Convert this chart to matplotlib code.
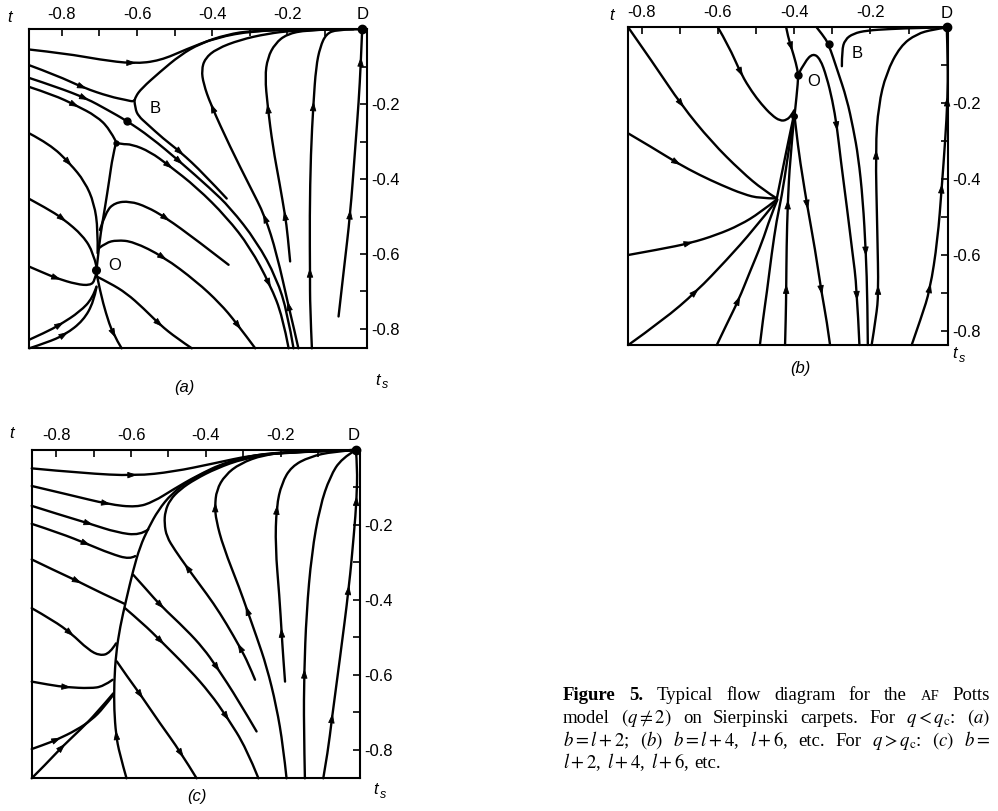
import numpy as np
import matplotlib
matplotlib.use("Agg")
import matplotlib.pyplot as plt
from matplotlib.path import Path
from matplotlib.patches import PathPatch

plt.rcParams['font.family'] = ['Liberation Sans', 'DejaVu Sans']
plt.rcParams['mathtext.fontset'] = 'stix'

W, H = 998, 811

# ---------------- axis ticks ----------------
top_ticks = [-0.8, -0.6, -0.4, -0.2]
top_labels = ['-0.8', '-0.6', '-0.4', '-0.2']
right_ticks = [-0.2, -0.4, -0.6, -0.8]
right_labels = ['-0.2', '-0.4', '-0.6', '-0.8']
minor_ticks = [-0.7, -0.5, -0.3, -0.1]

# ---------------- panel (a) ----------------
a_xlim = (-0.887, 0.012)
a_ylim = (-0.852, 0.0)
a_top = [(-0.887, -0.054), (-0.788, -0.065), (-0.699, -0.081), (-0.610, -0.092), (-0.539, -0.084),
         (-0.468, -0.053), (-0.388, -0.022), (-0.290, -0.004), (-0.165, -0.001), (0.0, 0.0)]
a_top_arr = [3]
a_hyp_up = [(-0.887, -0.096), (-0.814, -0.123), (-0.743, -0.156), (-0.672, -0.180), (-0.628, -0.189),
            (-0.607, -0.194), (-0.604, -0.180), (-0.588, -0.158), (-0.539, -0.114), (-0.485, -0.069),
            (-0.432, -0.038), (-0.361, -0.014), (-0.290, -0.003), (-0.165, 0.0)]
a_hyp_up_arr = [2]
a_hyp_down = [(-0.607, -0.189), (-0.605, -0.212), (-0.596, -0.232), (-0.574, -0.252), (-0.530, -0.292),
              (-0.485, -0.327), (-0.423, -0.385), (-0.361, -0.452)]
a_hyp_down_arr = [5]
a_sepB = [(-0.887, -0.130), (-0.814, -0.154), (-0.734, -0.185), (-0.681, -0.214), (-0.628, -0.244),
          (-0.565, -0.287), (-0.485, -0.354), (-0.405, -0.425), (-0.352, -0.476), (-0.281, -0.567),
          (-0.228, -0.665), (-0.199, -0.758), (-0.183, -0.852)]
a_sepB_arr = [2, 6]
a_junc_in = [(-0.887, -0.154), (-0.823, -0.175), (-0.763, -0.203), (-0.708, -0.232), (-0.674, -0.265),
             (-0.656, -0.300)]
a_junc_in_arr = [2]
a_junc_out = [(-0.656, -0.303), (-0.641, -0.307), (-0.614, -0.307), (-0.565, -0.327), (-0.516, -0.363),
              (-0.441, -0.422), (-0.361, -0.502), (-0.299, -0.582), (-0.245, -0.683), (-0.212, -0.767),
              (-0.196, -0.852)]
a_junc_out_arr = [4, 8]
a_elbow = [(-0.170, -0.852), (-0.183, -0.794), (-0.194, -0.749), (-0.228, -0.598), (-0.259, -0.499),
           (-0.299, -0.420), (-0.352, -0.314), (-0.404, -0.200), (-0.423, -0.145), (-0.428, -0.109),
           (-0.419, -0.078), (-0.388, -0.052), (-0.325, -0.028), (-0.254, -0.012), (-0.183, -0.003),
           (-0.076, 0.0)]
a_elbow_arr = [2, 4, 7]
a_r1 = [(-0.192, -0.620), (-0.199, -0.545), (-0.205, -0.500), (-0.220, -0.412), (-0.238, -0.314),
        (-0.252, -0.205), (-0.259, -0.127), (-0.252, -0.076), (-0.232, -0.038), (-0.201, -0.013),
        (-0.148, -0.002), (-0.076, 0.0)]
a_r1_arr = [2, 5]
a_r2 = [(-0.134, -0.852), (-0.139, -0.740), (-0.139, -0.656), (-0.140, -0.500), (-0.137, -0.332),
        (-0.130, -0.198), (-0.123, -0.100), (-0.112, -0.047), (-0.096, -0.012), (-0.068, -0.001),
        (-0.023, 0.0)]
a_r2_arr = [2, 5]
a_r3 = [(-0.063, -0.767), (-0.048, -0.634), (-0.032, -0.496), (-0.019, -0.323), (-0.009, -0.189),
        (-0.004, -0.096), (0.0, 0.0)]
a_r3_arr = [2, 5]
a_vert = [(-0.656, -0.303), (-0.665, -0.340), (-0.674, -0.403), (-0.685, -0.474), (-0.697, -0.545),
          (-0.704, -0.607), (-0.708, -0.643)]
a_l1 = [(-0.887, -0.278), (-0.832, -0.307), (-0.779, -0.358), (-0.739, -0.407), (-0.714, -0.465),
        (-0.704, -0.536), (-0.705, -0.598)]
a_l2 = [(-0.887, -0.453), (-0.841, -0.478), (-0.798, -0.505), (-0.743, -0.552), (-0.716, -0.598),
        (-0.708, -0.634)]
a_l3 = [(-0.887, -0.634), (-0.850, -0.650), (-0.814, -0.665), (-0.761, -0.681), (-0.725, -0.684),
        (-0.712, -0.671), (-0.708, -0.647)]
a_l4 = [(-0.887, -0.829), (-0.845, -0.810), (-0.805, -0.789), (-0.752, -0.754), (-0.718, -0.718),
        (-0.708, -0.687)]
a_l5 = [(-0.887, -0.852), (-0.841, -0.837), (-0.792, -0.816), (-0.743, -0.778), (-0.715, -0.727),
        (-0.708, -0.689)]
a_od = [(-0.708, -0.652), (-0.697, -0.705), (-0.683, -0.758), (-0.665, -0.812), (-0.641, -0.852)]
a_od_arr = [3]
a_or1 = [(-0.708, -0.660), (-0.672, -0.678), (-0.628, -0.705), (-0.583, -0.745), (-0.539, -0.789),
         (-0.494, -0.825), (-0.454, -0.852)]
a_or1_arr = [4]
a_or2 = [(-0.702, -0.585), (-0.683, -0.570), (-0.654, -0.563), (-0.610, -0.567), (-0.530, -0.607),
         (-0.441, -0.674), (-0.379, -0.732), (-0.336, -0.783), (-0.285, -0.852)]
a_or2_arr = [4, 7]
a_or3 = [(-0.699, -0.536), (-0.683, -0.487), (-0.659, -0.463), (-0.619, -0.459), (-0.574, -0.474),
         (-0.525, -0.502), (-0.441, -0.563), (-0.356, -0.629)]
a_or3_arr = [5]
a_fixed_x = [0.0, -0.628, -0.708, -0.656]
a_fixed_y = [0.0, -0.244, -0.643, -0.303]
a_fixed_size = [6, 5, 5.5, 3.5]
a_point_labels = ['B', 'O']
a_point_lx = [-0.552, -0.659]
a_point_ly = [-0.212, -0.631]

# ---------------- panel (b) ----------------
b_xlim = (-0.835, 0.004)
b_ylim = (-0.836, 0.002)
b_c1 = [(-0.835, 0.0), (-0.766, -0.099), (-0.696, -0.204), (-0.617, -0.301), (-0.538, -0.380),
        (-0.481, -0.428), (-0.446, -0.450)]
b_c2 = [(-0.835, -0.279), (-0.769, -0.318), (-0.705, -0.358), (-0.647, -0.389), (-0.591, -0.415),
        (-0.533, -0.439), (-0.490, -0.450), (-0.446, -0.450)]
b_c3 = [(-0.835, -0.599), (-0.752, -0.584), (-0.673, -0.568), (-0.603, -0.546), (-0.542, -0.520),
        (-0.490, -0.488), (-0.446, -0.453)]
b_c4 = [(-0.835, -0.836), (-0.743, -0.770), (-0.657, -0.696), (-0.577, -0.612), (-0.507, -0.533),
        (-0.446, -0.456)]
b_c5 = [(-0.603, -0.836), (-0.575, -0.777), (-0.546, -0.718), (-0.516, -0.643), (-0.485, -0.568),
        (-0.462, -0.498), (-0.444, -0.453)]
b_c6 = [(-0.490, -0.836), (-0.481, -0.761), (-0.472, -0.700), (-0.459, -0.595), (-0.446, -0.507),
        (-0.433, -0.446), (-0.418, -0.349), (-0.404, -0.253)]
b_pq = [(-0.446, -0.452), (-0.430, -0.372), (-0.415, -0.298), (-0.402, -0.236)]
b_c7 = [(-0.424, -0.836), (-0.422, -0.761), (-0.421, -0.691), (-0.420, -0.577), (-0.417, -0.463),
        (-0.411, -0.349), (-0.400, -0.235)]
b_c8 = [(-0.399, -0.235), (-0.389, -0.323), (-0.378, -0.393), (-0.367, -0.463), (-0.345, -0.586),
        (-0.328, -0.700), (-0.315, -0.770), (-0.306, -0.836)]
b_c9 = [(-0.600, 0.0), (-0.573, -0.046), (-0.538, -0.125), (-0.511, -0.169), (-0.486, -0.202),
        (-0.459, -0.231), (-0.437, -0.246), (-0.420, -0.244), (-0.407, -0.231), (-0.400, -0.218)]
b_c10 = [(-0.421, 0.0), (-0.416, -0.025), (-0.408, -0.051), (-0.395, -0.095), (-0.389, -0.126),
         (-0.393, -0.174), (-0.399, -0.231)]
b_hump = [(-0.389, -0.123), (-0.372, -0.090), (-0.351, -0.068), (-0.332, -0.082), (-0.315, -0.130),
          (-0.300, -0.191), (-0.288, -0.261), (-0.278, -0.349), (-0.262, -0.472), (-0.247, -0.595),
          (-0.236, -0.682), (-0.229, -0.836)]
b_bline = [(-0.341, 0.0), (-0.325, -0.020), (-0.310, -0.043), (-0.287, -0.112), (-0.262, -0.188),
           (-0.245, -0.267), (-0.232, -0.340), (-0.220, -0.454), (-0.212, -0.595), (-0.208, -0.718),
           (-0.207, -0.836)]
b_bshort = [(-0.275, -0.102), (-0.275, -0.060), (-0.267, -0.032), (-0.245, -0.016), (-0.210, -0.008),
            (-0.149, -0.004), (-0.070, -0.001), (0.0, 0.0)]
b_r1 = [(-0.197, -0.836), (-0.185, -0.761), (-0.179, -0.700), (-0.182, -0.542), (-0.187, -0.318),
        (-0.179, -0.205), (-0.159, -0.121), (-0.122, -0.049), (-0.079, -0.017), (-0.035, -0.005),
        (0.0, 0.0)]
b_r2 = [(-0.092, -0.836), (-0.066, -0.761), (-0.044, -0.691), (-0.024, -0.560), (-0.013, -0.419),
        (-0.004, -0.296), (0.002, -0.191), (0.003, -0.095), (0.0, 0.0)]
b_arrows = {'c1': [2], 'c2': [2], 'c3': [2], 'c4': [2], 'c5': [2], 'c7': [2, 4], 'c8': [3, 5],
            'c9': [2], 'c10': [2], 'hump': [6, 10], 'bline': [8], 'r1': [2, 4], 'r2': [2, 4, 6]}
b_fixed_x = [0.0, -0.310, -0.389, -0.400]
b_fixed_y = [0.0, -0.043, -0.126, -0.232]
b_fixed_size = [6, 5, 5, 4]
b_point_labels = ['B', 'O']
b_point_lx = [-0.236, -0.350]
b_point_ly = [-0.068, -0.143]

# ---------------- panel (c) ----------------
c_xlim = (-0.865, 0.011)
c_ylim = (-0.876, 0.0)
c_l1 = [(-0.865, -0.049), (-0.727, -0.062), (-0.589, -0.069), (-0.487, -0.058), (-0.380, -0.036),
        (-0.274, -0.013), (-0.149, -0.003), (0.0, 0.0)]
c_l2 = [(-0.865, -0.096), (-0.763, -0.120), (-0.660, -0.145), (-0.585, -0.153), (-0.540, -0.138),
        (-0.487, -0.105), (-0.425, -0.069), (-0.345, -0.031), (-0.238, -0.007), (0.0, 0.0)]
c_l3 = [(-0.865, -0.149), (-0.789, -0.173), (-0.709, -0.197), (-0.638, -0.220), (-0.576, -0.228),
        (-0.554, -0.212)]
c_l4 = [(-0.865, -0.197), (-0.789, -0.222), (-0.716, -0.251), (-0.656, -0.276), (-0.603, -0.292),
        (-0.589, -0.283)]
c_l5 = [(-0.865, -0.292), (-0.803, -0.322), (-0.740, -0.351), (-0.683, -0.380), (-0.616, -0.411)]
c_l6 = [(-0.865, -0.422), (-0.807, -0.455), (-0.760, -0.489), (-0.714, -0.533), (-0.683, -0.549),
        (-0.656, -0.542), (-0.640, -0.516)]
c_l7 = [(-0.865, -0.618), (-0.816, -0.627), (-0.772, -0.633), (-0.709, -0.636), (-0.674, -0.631),
        (-0.649, -0.613)]
c_l8 = [(-0.865, -0.798), (-0.834, -0.787), (-0.798, -0.773), (-0.745, -0.747), (-0.705, -0.720),
        (-0.674, -0.689), (-0.647, -0.653)]
c_l9 = [(-0.865, -0.876), (-0.825, -0.836), (-0.783, -0.791), (-0.736, -0.747), (-0.692, -0.702),
        (-0.647, -0.649)]
c_sep = [(-0.612, -0.876), (-0.631, -0.809), (-0.640, -0.760), (-0.645, -0.693), (-0.645, -0.622),
         (-0.640, -0.542), (-0.629, -0.471), (-0.613, -0.400), (-0.594, -0.320), (-0.576, -0.258),
         (-0.554, -0.209), (-0.527, -0.160), (-0.492, -0.117), (-0.443, -0.080), (-0.380, -0.049),
         (-0.309, -0.022), (-0.220, -0.006), (0.0, 0.0)]
c_o1 = [(-0.594, -0.333), (-0.558, -0.373), (-0.523, -0.413), (-0.452, -0.480), (-0.407, -0.529),
        (-0.372, -0.578), (-0.314, -0.667), (-0.265, -0.751)]
c_o2 = [(-0.616, -0.422), (-0.567, -0.464), (-0.523, -0.507), (-0.443, -0.587), (-0.389, -0.649),
        (-0.345, -0.711), (-0.292, -0.796), (-0.260, -0.876)]
c_o3 = [(-0.638, -0.564), (-0.607, -0.609), (-0.576, -0.651), (-0.523, -0.729), (-0.469, -0.804),
        (-0.425, -0.876)]
c_elbow = [(-0.269, -0.613), (-0.287, -0.569), (-0.309, -0.527), (-0.345, -0.464), (-0.380, -0.409),
           (-0.416, -0.360), (-0.452, -0.311), (-0.483, -0.267), (-0.505, -0.231), (-0.511, -0.196),
           (-0.509, -0.164), (-0.496, -0.133), (-0.469, -0.105), (-0.429, -0.078), (-0.372, -0.049),
           (-0.300, -0.023), (-0.194, -0.004), (0.0, 0.0)]
c_r1 = [(-0.185, -0.876), (-0.194, -0.791), (-0.212, -0.684), (-0.238, -0.578), (-0.265, -0.498),
        (-0.292, -0.422), (-0.309, -0.373), (-0.354, -0.258), (-0.373, -0.187), (-0.376, -0.151),
        (-0.372, -0.107), (-0.349, -0.067), (-0.309, -0.036), (-0.247, -0.013), (-0.167, -0.004),
        (0.0, 0.0)]
c_r2 = [(-0.189, -0.618), (-0.194, -0.551), (-0.198, -0.489), (-0.204, -0.391), (-0.215, -0.258),
        (-0.212, -0.151), (-0.198, -0.089), (-0.172, -0.044), (-0.123, -0.018), (-0.060, -0.004),
        (0.0, 0.0)]
c_r3 = [(-0.136, -0.876), (-0.139, -0.738), (-0.138, -0.596), (-0.132, -0.436), (-0.118, -0.276),
        (-0.096, -0.151), (-0.069, -0.071), (-0.038, -0.022), (0.0, 0.0)]
c_r4 = [(-0.087, -0.876), (-0.074, -0.800), (-0.065, -0.724), (-0.043, -0.560), (-0.018, -0.364),
        (-0.005, -0.222), (0.002, -0.133), (0.004, -0.044), (0.0, 0.0)]
c_arrows = {'l1': [2], 'l2': [2], 'l3': [2], 'l4': [2], 'l5': [2], 'l6': [2], 'l7': [2], 'l8': [2],
            'l9': [2], 'sep': [2], 'o1': [2, 5], 'o2': [2, 5], 'o3': [2, 4], 'elbow': [2, 6],
            'r1': [5, 9], 'r2': [2, 5], 'r3': [2], 'r4': [2, 4, 6]}
c_fixed_x = [0.0]
c_fixed_y = [0.0]
c_fixed_size = [6]

caption_lines = [
    [("Figure", True), ("5.", True), ("Typical", False), ("flow", False), ("diagram", False),
     ("for", False), ("the", False), ("AF", False), ("Potts", False)],
    [("model", False), (r"$(q\neq2)$", False), ("on", False), ("Sierpinski", False), ("carpets.", False),
     ("For", False), (r"$q<q_{\mathrm{c}}$:", False), (r"$(a)$", False)],
    [(r"$b=l+2$;", False), (r"$(b)$", False), (r"$b=l+4$,", False), (r"$l+6$,", False), ("etc.", False),
     ("For", False), (r"$q>q_{\mathrm{c}}$:", False), (r"$(c)$", False), (r"$b=$", False)],
    [(r"$l+2$,", False), (r"$l+4$,", False), (r"$l+6$,", False), ("etc.", False)],
]

# ---------------- drawing helpers ----------------
LW = 1.7


def draw_curve(ax, pts, arrows=()):
    P = np.asarray(pts, float)
    n = len(P)
    verts = [P[0]]
    codes = [Path.MOVETO]
    for i in range(1, n - 2):
        verts += [P[i], (P[i] + P[i + 1]) / 2]
        codes += [Path.CURVE3, Path.CURVE3]
    verts += [P[n - 2], P[n - 1]]
    codes += [Path.CURVE3, Path.CURVE3]
    ax.add_patch(PathPatch(Path(verts, codes), fill=False, lw=LW, ec='k',
                           capstyle='round', joinstyle='round', clip_on=False))
    for i in arrows:
        S = P[0] if i == 1 else (P[i - 1] + P[i]) / 2
        E = P[-1] if i == n - 2 else (P[i] + P[i + 1]) / 2
        c = 0.25 * S + 0.5 * P[i] + 0.25 * E
        d = E - S
        d = d / np.hypot(*d)
        ax.annotate('', xy=c + d * 0.010, xytext=c - d * 0.010,
                    arrowprops=dict(arrowstyle='-|>,head_length=0.65,head_width=0.22',
                                    fc='k', ec='k', lw=0.6, shrinkA=0, shrinkB=0,
                                    mutation_scale=9),
                    annotation_clip=False)


def setup(ax, xlim, ylim):
    ax.set_xlim(xlim)
    ax.set_ylim(ylim)
    ax.xaxis.tick_top()
    ax.yaxis.tick_right()
    ax.set_xticks(top_ticks, top_labels)
    ax.set_yticks(right_ticks, right_labels)
    ax.set_xticks(minor_ticks, minor=True)
    ax.set_yticks([-0.1, -0.3, -0.5, -0.7], minor=True)
    ax.tick_params(which='both', direction='in', length=5, width=1.2,
                   top=True, bottom=False, left=False, right=True, labelsize=12)
    ax.tick_params(axis='x', pad=5)
    ax.tick_params(axis='y', pad=3)
    for s in ax.spines.values():
        s.set_linewidth(1.5)


def fig_text(x_px, y_px, s, **kw):
    fig.text(x_px / W, 1 - y_px / H, s, **kw)


def axis_labels(tx, ty, sx, sy, px, py, plabel):
    fig_text(tx, ty, 't', fontsize=12, style='italic', ha='center', va='center')
    fig_text(sx, sy, 't', fontsize=12, style='italic', ha='center', va='center')
    fig_text(sx + 7, sy + 5, 's', fontsize=9, style='italic', ha='center', va='center')
    fig_text(px, py, plabel, fontsize=12, style='italic', ha='center', va='center')


fig = plt.figure(figsize=(W / 100, H / 100), dpi=100)

# panel a
ax_a = fig.add_axes([29.3 / W, 1 - 348.3 / H, 337.4 / W, 319.0 / H])
setup(ax_a, a_xlim, a_ylim)
a_list = [(a_top, a_top_arr), (a_hyp_up, a_hyp_up_arr), (a_hyp_down, a_hyp_down_arr),
          (a_sepB, a_sepB_arr), (a_junc_in, a_junc_in_arr), (a_junc_out, a_junc_out_arr),
          (a_elbow, a_elbow_arr), (a_r1, a_r1_arr), (a_r2, a_r2_arr), (a_r3, a_r3_arr),
          (a_vert, []), (a_l1, [2]), (a_l2, [2]), (a_l3, [2]), (a_l4, [2]), (a_l5, [2]),
          (a_od, a_od_arr), (a_or1, a_or1_arr), (a_or2, a_or2_arr), (a_or3, a_or3_arr)]
for pts, arr in a_list:
    draw_curve(ax_a, pts, arr)
for x, y, s in zip(a_fixed_x, a_fixed_y, a_fixed_size):
    ax_a.plot([x], [y], 'o', color='k', ms=s, clip_on=False, zorder=5)
for s, x, y in zip(a_point_labels, a_point_lx, a_point_ly):
    ax_a.text(x, y, s, fontsize=12, ha='center', va='center')
ax_a.annotate('D', xy=(0, 0), xytext=(0, 5), textcoords='offset points', ha='center', va='bottom',
              fontsize=12, annotation_clip=False)
axis_labels(10, 17, 378, 380, 184, 388, '(a)')

# panel b
ax_b = fig.add_axes([628.3 / W, 1 - 345.0 / H, 320.0 / W, 318.3 / H])
setup(ax_b, b_xlim, b_ylim)
b_list = [('c1', b_c1), ('c2', b_c2), ('c3', b_c3), ('c4', b_c4), ('c5', b_c5), ('c6', b_c6),
          ('pq', b_pq), ('c7', b_c7), ('c8', b_c8), ('c9', b_c9), ('c10', b_c10), ('hump', b_hump),
          ('bline', b_bline), ('bshort', b_bshort), ('r1', b_r1), ('r2', b_r2)]
for name, pts in b_list:
    draw_curve(ax_b, pts, b_arrows.get(name, []))
for x, y, s in zip(b_fixed_x, b_fixed_y, b_fixed_size):
    ax_b.plot([x], [y], 'o', color='k', ms=s, clip_on=False, zorder=5)
for s, x, y in zip(b_point_labels, b_point_lx, b_point_ly):
    ax_b.text(x, y, s, fontsize=12, ha='center', va='center')
ax_b.annotate('D', xy=(0, 0), xytext=(0, 5), textcoords='offset points', ha='center', va='bottom',
              fontsize=12, annotation_clip=False)
axis_labels(612, 15, 955, 354, 800, 368, '(b)')

# panel c
ax_c = fig.add_axes([31.7 / W, 1 - 778.3 / H, 328.3 / W, 328.3 / H])
setup(ax_c, c_xlim, c_ylim)
c_list = [('l1', c_l1), ('l2', c_l2), ('l3', c_l3), ('l4', c_l4), ('l5', c_l5), ('l6', c_l6),
          ('l7', c_l7), ('l8', c_l8), ('l9', c_l9), ('sep', c_sep), ('o1', c_o1), ('o2', c_o2),
          ('o3', c_o3), ('elbow', c_elbow), ('r1', c_r1), ('r2', c_r2), ('r3', c_r3), ('r4', c_r4)]
for name, pts in c_list:
    draw_curve(ax_c, pts, c_arrows.get(name, []))
for x, y, s in zip(c_fixed_x, c_fixed_y, c_fixed_size):
    ax_c.plot([x], [y], 'o', color='k', ms=s, clip_on=False, zorder=5)
ax_c.annotate('D', xy=(-0.007, 0), xytext=(0, 5), textcoords='offset points', ha='center', va='bottom',
              fontsize=12, annotation_clip=False)
axis_labels(12, 433, 376, 790, 197, 797, '(c)')

# caption (justified lines)
renderer = fig.canvas.get_renderer()
cap_x0, cap_x1 = 563, 990
cap_base = [700, 723, 746, 768]
cap_size = 13.5
for li, (words, yb) in enumerate(zip(caption_lines, cap_base)):
    arts = []
    for w, bold in words:
        size = cap_size * 0.78 if w == 'AF' else cap_size
        t = fig.text(0, 1 - yb / H, w, fontsize=size, family='Liberation Serif',
                     fontweight='bold' if bold else 'normal', ha='left', va='baseline')
        arts.append(t)
    widths = [a.get_window_extent(renderer).width for a in arts]
    if li < len(caption_lines) - 1:
        gap = (cap_x1 - cap_x0 - sum(widths)) / (len(widths) - 1)
    else:
        gap = 5.5
    x = cap_x0
    for a, wd in zip(arts, widths):
        a.set_x(x / W)
        x += wd + gap

fig.savefig('out.png', dpi=100)
